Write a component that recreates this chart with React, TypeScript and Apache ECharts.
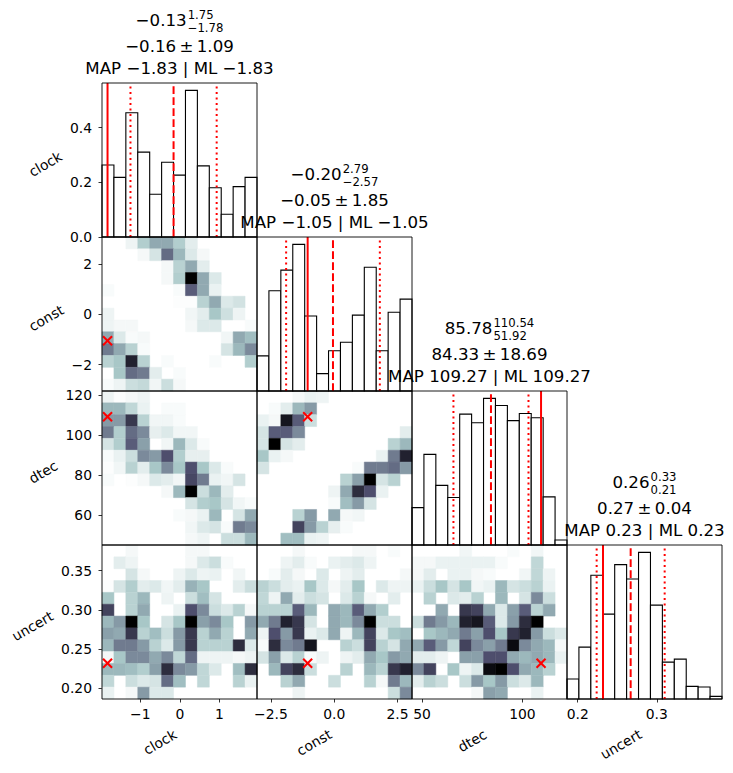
import { useEffect, useRef } from "react";
import * as echarts from "echarts";

const FONT = '"DejaVu Sans", sans-serif';
const TICK_FS = 13.9;
const LABEL_FS = 13.9;
const TITLE_FS = 16.67;
const SCRIPT_FS = 11.67;

// panel layout (pixels)
const LEFT = 102;
const TOP = 83;
const W = 155;
const H = 154;

const PARAMS = ["clock", "const", "dtec", "uncert"];
const RANGES: [number, number][] = [
  [-1.97, 1.95],
  [-3.05, 3.07],
  [45.0, 122.2],
  [0.1865, 0.3825],
];
const NBINS = 13;

// 1-D marginal densities
const HIST_CLOCK = [0.263, 0.218, 0.454, 0.31, 0.156, 0.273, 0.226, 0.536, 0.26, 0.18, 0.083, 0.184, 0.218];
const HIST_CONST = [0.075, 0.214, 0.258, 0.313, 0.16, 0.037, 0.086, 0.104, 0.162, 0.264, 0.086, 0.168, 0.196];
const HIST_DTEC = [0.0052, 0.0126, 0.0083, 0.0066, 0.0182, 0.017, 0.0204, 0.0194, 0.0173, 0.0183, 0.0177, 0.0067, 0.0007];
const HIST_UNCERT = [1.51, 3.91, 9.33, 6.4, 10.13, 9.05, 11.06, 7.08, 2.78, 3.01, 0.95, 0.9, 0.2];
const HISTS = [HIST_CLOCK, HIST_CONST, HIST_DTEC, HIST_UNCERT];

// summary statistics per parameter
const MEDIAN = [-0.13, -0.2, 85.78, 0.26];
const UPPER = [1.75, 2.79, 110.54, 0.33];
const LOWER = [-1.78, -2.57, 51.92, 0.21];
const MEAN = [-0.16, -0.05, 84.33, 0.267];
const STD = [1.09, 1.85, 18.69, 0.043];
const MAP = [-1.83, -1.05, 109.27, 0.232];
const ML = [-1.83, -1.05, 109.27, 0.232];

const X_TICKS = [[-1, 0, 1], [-2.5, 0, 2.5], [50, 100], [0.2, 0.3]];
const X_DEC = [0, 1, 0, 1];
const Y_TICKS = [[0, 0.2, 0.4], [-2, 0, 2], [60, 80, 100, 120], [0.2, 0.25, 0.3, 0.35]];
const Y_DEC = [1, 0, 0, 2];

// 2-D histograms (relative density), rows from highest y bin to lowest
const H2_CLOCK_CONST = [
  [0, 0, 0.05, 0.22, 0.35, 0.35, 0.22, 0.08, 0, 0, 0, 0, 0],
  [0, 0, 0, 0.03, 0.12, 0.55, 0.3, 0.1, 0.03, 0, 0, 0, 0],
  [0, 0, 0, 0, 0, 0.03, 0.2, 0.35, 0.08, 0, 0, 0, 0],
  [0, 0, 0, 0, 0, 0.03, 0.22, 1.0, 0.35, 0.1, 0, 0, 0],
  [0.02, 0, 0, 0, 0, 0, 0.02, 0.6, 0.35, 0.06, 0, 0, 0],
  [0, 0, 0, 0, 0, 0, 0.01, 0.01, 0.2, 0.35, 0.1, 0.13, 0],
  [0.05, 0, 0, 0, 0, 0, 0, 0.04, 0.08, 0.25, 0.14, 0.05, 0],
  [0.05, 0.03, 0.03, 0, 0, 0, 0, 0.03, 0.1, 0.1, 0, 0, 0.02],
  [0.35, 0.1, 0.02, 0.03, 0, 0, 0, 0, 0, 0, 0.04, 0.35, 0.28],
  [0.5, 0.35, 0.2, 0.02, 0, 0, 0, 0, 0, 0, 0.12, 0.3, 0.45],
  [0.2, 0.25, 0.85, 0.2, 0, 0.02, 0, 0, 0, 0.02, 0, 0, 0.22],
  [0, 0.25, 0.55, 0.5, 0.08, 0, 0.02, 0, 0, 0, 0, 0, 0],
  [0.02, 0.05, 0.15, 0.17, 0.04, 0.15, 0.03, 0, 0, 0, 0, 0, 0],
];
const H2_CLOCK_DTEC = [
  [0.05, 0.01, 0.03, 0.05, 0, 0, 0, 0, 0, 0, 0, 0, 0],
  [0.3, 0.3, 0.18, 0.06, 0, 0.02, 0.02, 0, 0, 0, 0, 0, 0],
  [0.4, 0.4, 0.75, 0.2, 0.04, 0.04, 0.02, 0, 0, 0, 0, 0, 0],
  [0.5, 0.22, 0.55, 0.45, 0.07, 0.1, 0.04, 0.04, 0, 0, 0, 0, 0],
  [0.12, 0.22, 0.6, 0.38, 0, 0.04, 0.3, 0.1, 0.02, 0, 0, 0, 0],
  [0.02, 0.06, 0.15, 0.45, 0.4, 0.65, 0.22, 0.07, 0.07, 0, 0, 0, 0],
  [0.01, 0.04, 0.2, 0.08, 0.25, 0.45, 0.25, 0.65, 0.25, 0.1, 0.02, 0, 0],
  [0.02, 0, 0.01, 0.03, 0.1, 0.08, 0.04, 0.68, 0.5, 0.06, 0.04, 0.12, 0],
  [0, 0, 0, 0, 0, 0.03, 0.3, 1.0, 0.15, 0.3, 0.08, 0, 0],
  [0, 0, 0, 0, 0, 0, 0, 0.12, 0.22, 0.25, 0.12, 0.04, 0.02],
  [0, 0, 0, 0, 0, 0, 0.02, 0.03, 0.06, 0.3, 0, 0.12, 0.35],
  [0, 0, 0, 0, 0, 0, 0, 0.04, 0.1, 0.12, 0.02, 0.5, 0.45],
  [0, 0, 0, 0, 0, 0, 0, 0.03, 0.05, 0, 0.15, 0.15, 0.3],
];
const H2_CLOCK_UNCERT = [
  [0, 0, 0.03, 0, 0, 0, 0, 0.03, 0.03, 0, 0, 0, 0],
  [0, 0.08, 0.05, 0, 0, 0, 0, 0.03, 0.1, 0.15, 0.02, 0, 0],
  [0, 0, 0.12, 0.03, 0, 0, 0.05, 0.1, 0.05, 0.06, 0, 0.04, 0],
  [0.01, 0.12, 0.22, 0.08, 0.1, 0.04, 0.08, 0.32, 0.25, 0, 0, 0.08, 0.15],
  [0.25, 0, 0.2, 0.3, 0, 0.05, 0, 0.15, 0.28, 0.12, 0, 0, 0],
  [0.7, 0, 0.2, 0.35, 0, 0, 0.06, 0.65, 0.45, 0.15, 0.1, 0.2, 0.03],
  [0.3, 0.4, 1.0, 0.25, 0, 0.12, 0.25, 1.0, 0.38, 0.45, 0.25, 0, 0.4],
  [0.38, 0.35, 0.75, 0.2, 0.28, 0.15, 0.4, 0.75, 0.2, 0.35, 0.2, 0, 0.35],
  [0.3, 0.5, 0.5, 0.4, 0.2, 0.1, 0.4, 0.75, 0.2, 0.2, 0.2, 0.8, 0.1],
  [0.03, 0.25, 0.45, 0.45, 0.35, 0.45, 0.18, 0.55, 0.05, 0.05, 0.05, 0.03, 0.05],
  [0.3, 0.3, 0.28, 0.22, 0.38, 0.8, 0.45, 0.4, 0.18, 0.1, 0, 0.28, 0.8],
  [0.18, 0, 0.15, 0.1, 0.12, 0.55, 0.28, 0, 0.18, 0, 0, 0.2, 0.06],
  [0.06, 0, 0.03, 0.4, 0.1, 0.1, 0, 0, 0, 0, 0, 0, 0],
];
const H2_CONST_DTEC = [
  [0, 0, 0, 0.03, 0.06, 0.05, 0, 0, 0, 0, 0, 0, 0],
  [0, 0.02, 0.08, 0.3, 0.4, 0, 0, 0, 0, 0, 0, 0, 0],
  [0.06, 0.03, 0.9, 0.6, 0.15, 0, 0, 0, 0, 0, 0, 0, 0],
  [0.12, 0.6, 0.6, 0.45, 0, 0, 0, 0, 0, 0, 0, 0, 0.08],
  [0.12, 1.0, 0.12, 0.08, 0, 0, 0, 0, 0, 0, 0, 0.2, 0.3],
  [0.25, 0.06, 0.03, 0, 0, 0, 0, 0, 0, 0, 0.06, 0.5, 0.85],
  [0.12, 0, 0, 0, 0, 0, 0, 0, 0.02, 0.5, 0.5, 0.55, 0.4],
  [0, 0, 0, 0, 0, 0, 0, 0.2, 0.38, 1.0, 0.12, 0.2, 0],
  [0, 0, 0, 0, 0, 0, 0.05, 0.35, 0.8, 0.65, 0.06, 0, 0],
  [0, 0, 0, 0, 0, 0, 0.02, 0.28, 0.4, 0.12, 0, 0, 0],
  [0, 0, 0, 0.2, 0.4, 0, 0.35, 0.03, 0.04, 0, 0, 0, 0],
  [0, 0, 0, 0.7, 0.4, 0.2, 0.07, 0.02, 0, 0, 0, 0, 0],
  [0, 0, 0.28, 0.28, 0.06, 0.05, 0, 0, 0, 0, 0, 0, 0],
];
const H2_CONST_UNCERT = [
  [0, 0, 0, 0.03, 0, 0, 0, 0, 0.03, 0.03, 0, 0.02, 0],
  [0, 0, 0.05, 0.08, 0.02, 0, 0.06, 0.08, 0.1, 0.05, 0, 0, 0],
  [0, 0.02, 0.08, 0.03, 0, 0.1, 0, 0.05, 0.08, 0, 0, 0, 0.03],
  [0.2, 0.15, 0.08, 0.06, 0.25, 0.1, 0.03, 0.08, 0.25, 0, 0.1, 0.05, 0.05],
  [0.18, 0.05, 0.35, 0.08, 0.15, 0.12, 0, 0.1, 0.2, 0.03, 0, 0.08, 0],
  [0.2, 0.2, 0.2, 0.6, 0.3, 0, 0.35, 0.3, 0.6, 0.35, 0.22, 0, 0],
  [0.35, 0.5, 0.85, 0.75, 0.12, 0, 0.35, 0.3, 0.45, 1.0, 0.15, 0.15, 0],
  [0.05, 0.65, 0.4, 0.75, 0.06, 0.1, 0.35, 0.05, 0.3, 0.7, 0.1, 0.25, 0.28],
  [0.02, 0.8, 0.45, 0.5, 0.9, 0, 0, 0.2, 0.15, 0.7, 0.2, 0.12, 0.35],
  [0.12, 0.38, 0.1, 0.2, 0.02, 0.05, 0, 0.05, 0.08, 0.35, 0.25, 0.4, 0.35],
  [0, 0.3, 0.7, 0.8, 0.15, 0, 0, 0.2, 0, 0.3, 0.2, 0.75, 0.85],
  [0, 0, 0.2, 0.35, 0, 0, 0.15, 0, 0, 0.2, 0.03, 0.5, 0.3],
  [0, 0, 0, 0.05, 0, 0, 0, 0, 0, 0, 0, 0.15, 0.45],
];
const H2_DTEC_UNCERT = [
  [0, 0, 0, 0, 0.04, 0, 0, 0, 0.02, 0, 0.04, 0, 0],
  [0.03, 0.03, 0.06, 0.06, 0.06, 0.06, 0.06, 0.02, 0, 0, 0.18, 0, 0],
  [0.03, 0.08, 0, 0.06, 0.06, 0.03, 0.02, 0, 0, 0.04, 0.18, 0.05, 0],
  [0.06, 0.15, 0.25, 0.12, 0.25, 0.04, 0.06, 0.3, 0.12, 0.15, 0.2, 0.06, 0],
  [0, 0.2, 0, 0.1, 0.08, 0.2, 0, 0.3, 0, 0.12, 0.45, 0.15, 0],
  [0, 0, 0.35, 0, 0.75, 0.7, 0.35, 0.1, 0.38, 0.6, 0.2, 0.35, 0],
  [0.15, 0.5, 0.4, 0.3, 0.85, 0.9, 0.6, 0.1, 0.4, 0.8, 1.0, 0, 0],
  [0, 0.25, 0.3, 0.35, 0.5, 0.38, 0.65, 0.25, 0.75, 0.85, 0.4, 0.15, 0.1],
  [0.35, 0.6, 0.4, 0.18, 0.7, 0.45, 0.38, 0.5, 0.95, 0.45, 0.35, 0.3, 0.03],
  [0.08, 0.08, 0.05, 0, 0.38, 0.38, 0.65, 0.65, 0.35, 0.3, 0.35, 0.3, 0.06],
  [0.45, 0.7, 0, 0.25, 0.05, 0.1, 0.95, 1.0, 0.65, 0.35, 0.3, 0.2, 0],
  [0.08, 0.2, 0.15, 0, 0.15, 0.4, 0.25, 0.4, 0.15, 0.1, 0.3, 0, 0],
  [0, 0, 0, 0, 0, 0.03, 0.38, 0.35, 0, 0, 0.06, 0, 0],
];
const H2: Record<string, number[][]> = {
  "1,0": H2_CLOCK_CONST,
  "2,0": H2_CLOCK_DTEC,
  "3,0": H2_CLOCK_UNCERT,
  "2,1": H2_CONST_DTEC,
  "3,1": H2_CONST_UNCERT,
  "3,2": H2_DTEC_UNCERT,
};

// reversed "bone" colormap
function boneR(v: number): string {
  const u = 1 - Math.max(0, Math.min(1, v));
  const a = 0.365079;
  const b = 0.746032;
  const r = u < b ? (u / b) * 0.652778 : 0.652778 + ((u - b) / (1 - b)) * (1 - 0.652778);
  const g =
    u < a
      ? (u / a) * 0.319444
      : u < b
      ? 0.319444 + ((u - a) / (b - a)) * (0.777778 - 0.319444)
      : 0.777778 + ((u - b) / (1 - b)) * (1 - 0.777778);
  const bl = u < a ? (u / a) * 0.444444 : 0.444444 + ((u - a) / (1 - a)) * (1 - 0.444444);
  const to = (x: number) => Math.round(x * 255);
  return `rgb(${to(r)},${to(g)},${to(bl)})`;
}

const fmt = (v: number, d: number) => v.toFixed(d).replace("-", "\u2212");

let measureCtx: CanvasRenderingContext2D | null = null;
function textWidth(s: string, size: number): number {
  if (!measureCtx) measureCtx = document.createElement("canvas").getContext("2d");
  if (!measureCtx) return s.length * size * 0.6;
  measureCtx.font = `${size}px "DejaVu Sans"`;
  return measureCtx.measureText(s).width;
}

function buildOption() {
  const grids: any[] = [];
  const xAxis: any[] = [];
  const yAxis: any[] = [];
  const series: any[] = [];
  const elements: any[] = [];
  const tick = { lineStyle: { color: "#000", width: 0.8 }, length: 3.5 };
  const label = { color: "#000", fontSize: TICK_FS, fontFamily: FONT };
  const RED = "#ff0000";

  for (let r = 0; r < 4; r++) {
    for (let c = 0; c <= r; c++) {
      const gi = grids.length;
      const left = LEFT + c * W;
      const top = TOP + r * H;
      grids.push({ left, top, width: W, height: H });
      const [xlo, xhi] = RANGES[c];
      const diag = r === c;
      const ylo = diag ? 0 : RANGES[r][0];
      const yhi = diag ? Math.max(...HISTS[c]) * 1.05 : RANGES[r][1];
      const bottom = r === 3;
      const leftCol = c === 0;
      xAxis.push({
        type: "value",
        gridIndex: gi,
        position: "bottom",
        min: xlo,
        max: xhi,
        splitLine: { show: false },
        axisLine: { show: false, onZero: false },
        axisTick: bottom ? { ...tick, customValues: X_TICKS[c] } : { show: false },
        axisLabel: bottom
          ? { ...label, margin: 8, customValues: X_TICKS[c], formatter: (v: number) => fmt(v, X_DEC[c]) }
          : { show: false },
      });
      yAxis.push({
        type: "value",
        gridIndex: gi,
        position: "left",
        min: ylo,
        max: yhi,
        splitLine: { show: false },
        axisLine: { show: false, onZero: false },
        axisTick: leftCol ? { ...tick, customValues: Y_TICKS[r] } : { show: false },
        axisLabel: leftCol
          ? { ...label, margin: 10, customValues: Y_TICKS[r], formatter: (v: number) => fmt(v, Y_DEC[r]) }
          : { show: false },
      });

      if (diag) {
        const bw = (xhi - xlo) / NBINS;
        series.push({
          type: "custom",
          xAxisIndex: gi,
          yAxisIndex: gi,
          z: 2,
          data: HISTS[c].map((h, i) => [i, h]),
          renderItem: (_p: any, api: any) => {
            const i = api.value(0);
            const h = api.value(1);
            const p0 = api.coord([xlo + i * bw, h]);
            const p1 = api.coord([xlo + (i + 1) * bw, 0]);
            return {
              type: "rect",
              shape: { x: p0[0], y: p0[1], width: p1[0] - p0[0], height: p1[1] - p0[1] },
              style: { fill: "#fff", stroke: "#000", lineWidth: 1.1 },
            };
          },
        });
        const lines = [
          [MAP[c], 0],
          [MEAN[c], 1],
          [MEAN[c] - STD[c], 2],
          [MEAN[c] + STD[c], 2],
        ];
        const dashes: any[] = [null, [7.7, 3.3], [2.1, 3.4]];
        series.push({
          type: "custom",
          xAxisIndex: gi,
          yAxisIndex: gi,
          z: 3,
          data: lines,
          renderItem: (_p: any, api: any) => {
            const v = api.value(0);
            const k = api.value(1);
            const p0 = api.coord([v, 0]);
            const p1 = api.coord([v, yhi]);
            return {
              type: "line",
              shape: { x1: p0[0], y1: p0[1], x2: p1[0], y2: p1[1] },
              style: { stroke: RED, lineWidth: 2, lineDash: dashes[k] || undefined },
            };
          },
        });
      } else {
        const grid2 = H2[`${r},${c}`];
        const bx = (xhi - xlo) / NBINS;
        const by = (yhi - ylo) / NBINS;
        const cells: number[][] = [];
        grid2.forEach((row, ri) =>
          row.forEach((v, ci) => {
            if (v > 0) cells.push([ci, NBINS - 1 - ri, v]);
          })
        );
        series.push({
          type: "custom",
          xAxisIndex: gi,
          yAxisIndex: gi,
          z: 1,
          data: cells,
          renderItem: (_p: any, api: any) => {
            const i = api.value(0);
            const j = api.value(1);
            const col = boneR(api.value(2));
            const p0 = api.coord([xlo + i * bx, ylo + (j + 1) * by]);
            const p1 = api.coord([xlo + (i + 1) * bx, ylo + j * by]);
            return {
              type: "rect",
              shape: { x: p0[0], y: p0[1], width: p1[0] - p0[0], height: p1[1] - p0[1] },
              style: { fill: col, stroke: col, lineWidth: 0.5 },
            };
          },
        });
        series.push({
          type: "custom",
          xAxisIndex: gi,
          yAxisIndex: gi,
          z: 4,
          data: [[MAP[c], MAP[r]]],
          renderItem: (_p: any, api: any) => {
            const p = api.coord([api.value(0), api.value(1)]);
            const s = 4.5;
            const st = { stroke: RED, lineWidth: 2 };
            return {
              type: "group",
              children: [
                { type: "line", shape: { x1: p[0] - s, y1: p[1] - s, x2: p[0] + s, y2: p[1] + s }, style: st },
                { type: "line", shape: { x1: p[0] - s, y1: p[1] + s, x2: p[0] + s, y2: p[1] - s }, style: st },
              ],
            };
          },
        });
      }

      elements.push({
        type: "rect",
        z: 50,
        silent: true,
        shape: { x: left, y: top, width: W, height: H },
        style: { fill: "none", stroke: "#000", lineWidth: 0.9 },
      });
    }
  }

  // titles above the diagonal panels
  for (let k = 0; k < 4; k++) {
    const cx = LEFT + k * W + W / 2;
    const top = TOP + k * H;
    const main = fmt(MEDIAN[k], 2);
    const sup = fmt(UPPER[k], 2);
    const sub = fmt(LOWER[k], 2);
    const wMain = textWidth(main, TITLE_FS);
    const wScript = Math.max(textWidth(sup, SCRIPT_FS), textWidth(sub, SCRIPT_FS));
    const gap = 1;
    const x0 = cx - (wMain + gap + wScript) / 2;
    const tfont = `${TITLE_FS}px ${FONT}`;
    const sfont = `${SCRIPT_FS}px ${FONT}`;
    const txt = (text: string, x: number, y: number, font: string, align: string) => ({
      type: "text",
      z: 60,
      silent: true,
      x,
      y,
      style: { text, x: 0, y: 0, font, fill: "#000", textAlign: align, textVerticalAlign: "middle" },
    });
    elements.push(txt(main, x0, top - 62.5, tfont, "left"));
    elements.push(txt(sup, x0 + wMain + gap, top - 68, sfont, "left"));
    elements.push(txt(sub, x0 + wMain + gap, top - 55.5, sfont, "left"));
    elements.push(txt(`${fmt(MEAN[k], 2)}\u2009\u00b1\u2009${fmt(STD[k], 2)}`, cx, top - 37, tfont, "center"));
    elements.push(txt(`MAP ${fmt(MAP[k], 2)} | ML ${fmt(ML[k], 2)}`, cx, top - 14.5, tfont, "center"));
  }

  // rotated axis labels
  const th = (30 * Math.PI) / 180;
  const hh = LABEL_FS * 1.17;
  const lfont = `${LABEL_FS}px ${FONT}`;
  const rotLabel = (text: string, x: number, y: number) => ({
    type: "text",
    z: 60,
    silent: true,
    x,
    y,
    rotation: th,
    style: { text, x: 0, y: 0, font: lfont, fill: "#000", textAlign: "center", textVerticalAlign: "middle" },
  });
  for (let k = 0; k < 4; k++) {
    const L = textWidth(PARAMS[k], LABEL_FS);
    const halfW = (L * Math.cos(th) + hh * Math.sin(th)) / 2;
    const halfH = (L * Math.sin(th) + hh * Math.cos(th)) / 2;
    // y label on the left column
    const tickW = Math.max(...Y_TICKS[k].map((v) => textWidth(fmt(v, Y_DEC[k]), TICK_FS)));
    const right = LEFT - 11 - tickW - 4;
    elements.push(rotLabel(PARAMS[k], right - halfW, TOP + k * H + H / 2 + 4));
    // x label under the bottom row
    elements.push(rotLabel(PARAMS[k], LEFT + k * W + W / 2 - halfW, 726 + halfH));
  }

  return {
    animation: false,
    backgroundColor: "#fff",
    textStyle: { fontFamily: FONT },
    grid: grids,
    xAxis,
    yAxis,
    series,
    graphic: { elements },
  };
}

export default function App() {
  const ref = useRef<HTMLDivElement>(null);
  useEffect(() => {
    if (!ref.current) return;
    const chart = echarts.init(ref.current, undefined, { renderer: "svg" });
    chart.setOption(buildOption() as any);
    return () => chart.dispose();
  }, []);
  return <div ref={ref} style={{ position: "absolute", left: 0, top: 0, width: 733, height: 773 }} />;
}
